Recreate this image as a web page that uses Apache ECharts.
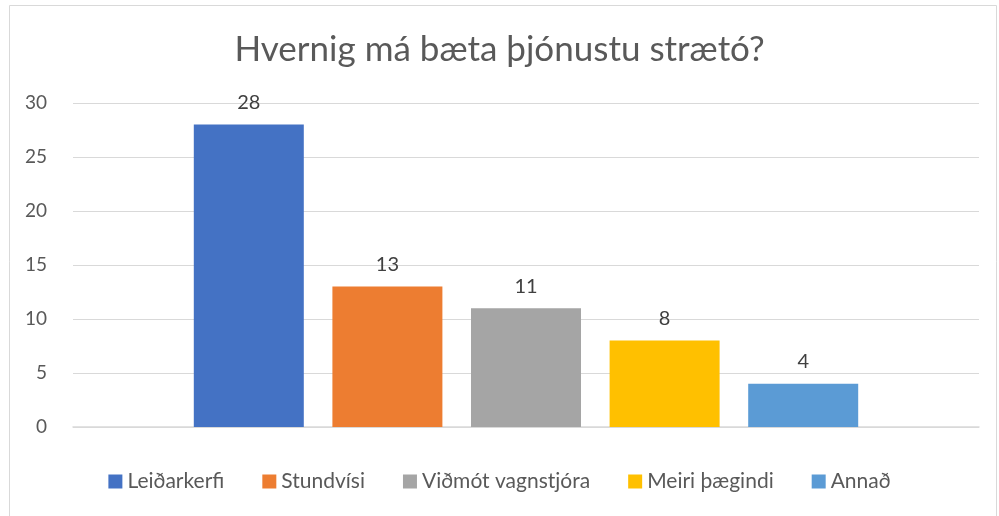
<!DOCTYPE html>
<html>
<head>
<meta charset="utf-8">
<script src="https://cdn.jsdelivr.net/npm/echarts@6/dist/echarts.min.js"></script>
<style>
  html, body { margin: 0; padding: 0; background: #fff; }
  #chart { width: 999px; height: 516px; }
</style>
</head>
<body>
<div id="chart"></div>
<script>
// gögn
const seriesNames = ['Leiðarkerfi', 'Stundvísi', 'Viðmót vagnstjóra', 'Meiri þægindi', 'Annað'];
const seriesValues = [28, 13, 11, 8, 4];
const seriesColors = ['#4472C4', '#ED7D31', '#A5A5A5', '#FFC000', '#5B9BD5'];
const yTicks = [0, 5, 10, 15, 20, 25, 30];

const chart = echarts.init(document.getElementById('chart'));

const series = seriesNames.map((name, i) => ({
  name: name,
  type: 'bar',
  data: [seriesValues[i]],
  barWidth: 110,
  barGap: '26%',
  itemStyle: { color: seriesColors[i] },
  label: {
    show: true,
    position: 'top',
    distance: 12,
    color: '#404040',
    fontSize: 20,
    fontFamily: 'Lato'
  }
}));

const option = {
  animation: false,
  backgroundColor: '#fff',
  title: {
    text: 'Hvernig má bæta þjónustu strætó?',
    left: 'center',
    top: 27,
    textStyle: { color: '#595959', fontSize: 35, fontWeight: 'normal', fontFamily: 'Lato' }
  },
  legend: {
    bottom: 19,
    left: 'center',
    icon: 'rect',
    itemWidth: 14,
    itemHeight: 14,
    itemGap: 38,
    textStyle: { color: '#595959', fontSize: 21, fontFamily: 'Lato' },
    data: seriesNames
  },
  grid: { left: 73, right: 20, top: 103, bottom: 89, containLabel: false },
  xAxis: {
    type: 'category',
    data: [''],
    axisLine: { lineStyle: { color: '#d9d9d9', width: 1.5 } },
    axisTick: { show: false },
    axisLabel: { show: false }
  },
  yAxis: {
    type: 'value',
    min: yTicks[0],
    max: yTicks[yTicks.length - 1],
    interval: 5,
    axisLine: { show: false },
    axisTick: { show: false },
    axisLabel: { color: '#595959', fontSize: 19, fontFamily: 'Lato', margin: 26 },
    splitLine: { lineStyle: { color: '#d9d9d9', width: 1 } }
  },
  graphic: [{
    type: 'rect',
    shape: { x: 9.5, y: 5.5, width: 987, height: 520 },
    style: { fill: 'none', stroke: '#d9d9d9', lineWidth: 1 },
    silent: true
  }],
  series: series
};

chart.setOption(option);
</script>
</body>
</html>
